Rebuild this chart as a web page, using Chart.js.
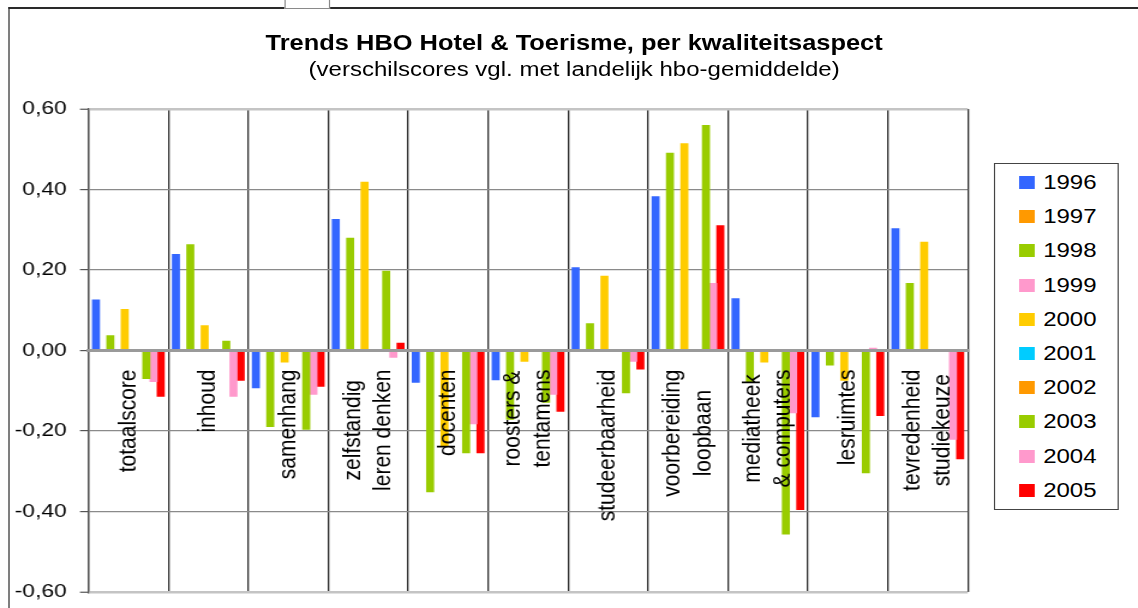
<!DOCTYPE html>
<html lang="nl">
<head>
<meta charset="utf-8">
<title>Trends HBO Hotel &amp; Toerisme</title>
<script src="https://cdn.jsdelivr.net/npm/chart.js@4.4.1/dist/chart.umd.min.js"></script>
<style>
    html, body { margin: 0; padding: 0; background: #fff; overflow: hidden; }
    body { width: 1138px; height: 608px; position: relative; }
    /* het origineel is horizontaal uitgerekt: alles op 948px tekenen en opschalen */
    #stage {
        position: absolute; left: 0; top: 0;
        width: 948px; height: 608px;
        transform: scaleX(1.2004); transform-origin: 0 0;
        font-family: "Liberation Sans", Arial, sans-serif; color: #000;
    }
    #grafiek { position: absolute; left: 0; top: 0; }
    #kader {
        position: absolute; left: 6.5px; top: 7px; right: -20px; bottom: -20px;
        border-top: 2px solid #2a2a2a; border-left: 1.3px solid #2a2a2a;
    }
    #vakje {
        position: absolute; left: 236.6px; top: -1px; width: 36.7px; height: 8px;
        border: 1px solid #8a8a8a; background: #fff;
    }
    .titel {
        position: absolute; left: 0; width: 956.6px; text-align: center; white-space: nowrap;
    }
    #titel { top: 29.5px; font-size: 21.2px; line-height: 25px; font-weight: bold; }
    #ondertitel { top: 57px; font-size: 20px; line-height: 24px; }
    #legenda {
        position: absolute; left: 827.5px; top: 163px; width: 104px; height: 347px;
        border: 1px solid #444; box-sizing: border-box; background: #fff;
    }
    .item {
        position: absolute; left: 0; width: 100%; height: 34.2px; line-height: 34.2px;
        font-size: 20px; white-space: nowrap;
    }
    .item span.blok {
        position: absolute; left: 20.5px; top: 11px; width: 13px; height: 13px;
    }
    .item span.jaar { position: absolute; left: 40.5px; top: 0; }
</style>
</head>
<body>
<div id="stage">
    <div id="kader"></div>
    <div id="vakje"></div>
    <div id="titel" class="titel">Trends HBO Hotel &amp; Toerisme, per kwaliteitsaspect</div>
    <div id="ondertitel" class="titel">(verschilscores vgl. met landelijk hbo-gemiddelde)</div>
    <canvas id="grafiek" width="948" height="608"></canvas>
    <div id="legenda"></div>
</div>
<script>
const categorieen = [
    'totaalscore', 'inhoud', 'samenhang', ['zelfstandig', 'leren denken'], 'docenten',
    ['roosters &', 'tentamens'], 'studeerbaarheid', ['voorbereiding', 'loopbaan'],
    ['mediatheek', '& computers'], 'lesruimtes', ['tevredenheid', 'studiekeuze']
];

const jaren = ['1996', '1997', '1998', '1999', '2000', '2001', '2002', '2003', '2004', '2005'];
const kleuren = ['#3366FF', '#FF9900', '#99CC00', '#FF99CC', '#FFCC00', '#00CCFF', '#FF9900', '#99CC00', '#FF99CC', '#FF0000'];

const scores1996 = [0.127, 0.240, -0.094, 0.327, -0.080, -0.074, 0.207, 0.383, 0.130, -0.166, 0.304];
const scores1997 = [null, null, null, null, null, null, null, null, null, null, null];
const scores1998 = [0.038, 0.264, -0.190, 0.280, -0.352, -0.172, 0.068, 0.491, -0.078, -0.037, 0.168];
const scores1999 = [null, null, null, null, null, null, null, null, null, null, null];
const scores2000 = [0.103, 0.063, -0.030, 0.419, -0.240, -0.028, 0.186, 0.515, -0.030, -0.075, 0.270];
const scores2001 = [null, null, null, null, null, null, null, null, null, null, null];
const scores2002 = [null, null, null, null, null, null, null, null, null, null, null];
const scores2003 = [-0.071, 0.024, -0.197, 0.198, -0.255, -0.130, -0.106, 0.560, -0.457, -0.305, -0.004];
const scores2004 = [-0.078, -0.115, -0.110, -0.018, -0.183, -0.110, -0.028, 0.168, -0.156, 0.007, -0.222];
const scores2005 = [-0.115, -0.075, -0.090, 0.019, -0.255, -0.152, -0.047, 0.311, -0.396, -0.163, -0.270];

const yTicks = [-0.6, -0.4, -0.2, 0, 0.2, 0.4, 0.6];

const reeksen = [scores1996, scores1997, scores1998, scores1999, scores2000,
                 scores2001, scores2002, scores2003, scores2004, scores2005];

const lettertype = '"Liberation Sans", Arial, sans-serif';

// legenda als gewone html
const legenda = document.getElementById('legenda');
jaren.forEach((jaar, i) => {
    const rij = document.createElement('div');
    rij.className = 'item';
    rij.style.top = (1 + i * 34.2) + 'px';
    rij.innerHTML = `<span class="blok" style="background:${kleuren[i]}"></span><span class="jaar">${jaar}</span>`;
    legenda.appendChild(rij);
});

// categorienamen staan verticaal net onder de nullijn
const categorieLabels = {
    id: 'categorieLabels',
    afterDatasetsDraw(chart) {
        const { ctx, scales: { x, y } } = chart;
        const nul = y.getPixelForValue(0);
        ctx.save();
        ctx.font = '21px ' + lettertype;
        ctx.fillStyle = '#000';
        ctx.textAlign = 'center';
        ctx.textBaseline = 'middle';
        categorieen.forEach((label, i) => {
            const regels = Array.isArray(label) ? label : [label];
            const breedste = Math.max(...regels.map(r => ctx.measureText(r).width));
            const midden = nul + 19 + breedste / 2;
            const cx = x.getPixelForValue(i);
            regels.forEach((regel, j) => {
                const dx = (j - (regels.length - 1) / 2) * 25.5;
                ctx.save();
                ctx.translate(cx + dx, midden);
                ctx.rotate(-Math.PI / 2);
                ctx.fillText(regel, 0, 0);
                ctx.restore();
            });
        });
        ctx.restore();
    }
};

const datasets = jaren.map((jaar, i) => ({
    label: jaar,
    data: reeksen[i],
    backgroundColor: kleuren[i],
    borderWidth: 0
}));

new Chart(document.getElementById('grafiek'), {
    type: 'bar',
    data: { labels: categorieen, datasets: datasets },
    options: {
        responsive: false,
        animation: false,
        events: [],
        layout: { padding: { left: 0, right: 141.8, top: 109, bottom: 16 } },
        datasets: { bar: { categoryPercentage: 0.9, barPercentage: 1.12 } },
        plugins: {
            legend: { display: false },
            title: { display: false },
            tooltip: { enabled: false }
        },
        scales: {
            x: {
                position: { y: 0 },
                ticks: { display: false },
                grid: { offset: true, drawTicks: false, color: '#2b2b2b', lineWidth: 1.3 },
                border: { display: true, color: '#9a9a9a', width: 3, z: 1 }
            },
            y: {
                min: yTicks[0],
                max: yTicks[yTicks.length - 1],
                afterFit: (scale) => {
                    scale.width = 73.6;
                    scale.paddingTop = 0;
                    scale.paddingBottom = 0;
                },
                afterBuildTicks: (scale) => { scale.ticks = yTicks.map(v => ({ value: v })); },
                ticks: {
                    color: '#000',
                    padding: 11,
                    font: { family: lettertype, size: 19 },
                    callback: (v) => (Math.abs(v) < 1e-9 ? 0 : v).toFixed(2).replace('.', ',')
                },
                grid: {
                    color: (c) => Math.abs(c.tick.value) > 0.59 ? '#c4c4c4' : '#8a8a8a',
                    lineWidth: (c) => Math.abs(c.tick.value) > 0.59 ? 2.5 : 1.2,
                    tickLength: 7,
                    tickColor: '#555',
                    tickWidth: 1.2
                },
                border: { display: true, color: '#555', width: 1.3 }
            }
        }
    },
    plugins: [categorieLabels]
});
</script>
</body>
</html>
